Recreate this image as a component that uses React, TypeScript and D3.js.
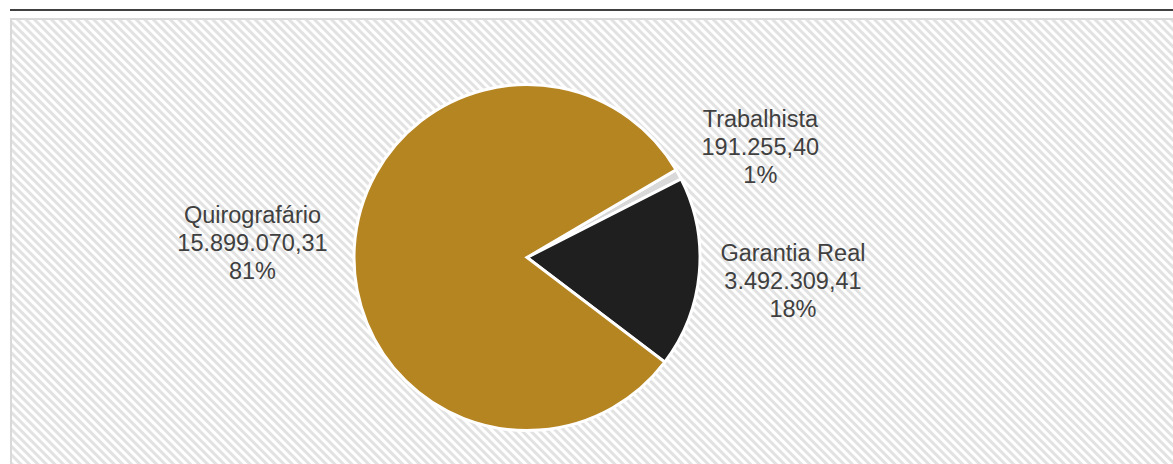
import React from 'react';
import * as d3 from 'd3';

// dados do gráfico
const categories = ['Trabalhista', 'Garantia Real', 'Quirografário'];
const values = [191255.40, 3492309.41, 15899070.31];
const valueLabels = ['191.255,40', '3.492.309,41', '15.899.070,31'];
const percentLabels = ['1%', '18%', '81%'];
const colors = ['#d9d9d9', '#1f1f1f', '#b58522'];

// ajuste fino dos rótulos (best fit)
const labelShift: Record<string, [number, number]> = {
  'Trabalhista': [1, 17],
  'Garantia Real': [2, 0],
  'Quirografário': [-10, 1],
};

const W = 1173;
const H = 464;

const App: React.FC = () => {
  const svgRef = React.useRef<SVGSVGElement>(null);

  React.useEffect(() => {
    if (!svgRef.current) return;
    const svg = d3.select(svgRef.current);
    svg.selectAll('*').remove();

    // padrão hachurado do fundo
    const defs = svg.append('defs');
    const pat = defs.append('pattern')
      .attr('id', 'hatch')
      .attr('patternUnits', 'userSpaceOnUse')
      .attr('width', 6)
      .attr('height', 6)
      .attr('patternTransform', 'rotate(45)');
    pat.append('rect').attr('width', 6).attr('height', 6).attr('fill', '#ffffff');
    pat.append('rect').attr('width', 6).attr('height', 3).attr('fill', '#e2e2e2');

    // linha superior
    svg.append('line')
      .attr('x1', 10).attr('x2', W)
      .attr('y1', 10).attr('y2', 10)
      .attr('stroke', '#404040')
      .attr('stroke-width', 2);

    // área do gráfico
    svg.append('rect')
      .attr('x', 11).attr('y', 19)
      .attr('width', W + 10).attr('height', H)
      .attr('fill', 'url(#hatch)')
      .attr('stroke', '#d9d9d9')
      .attr('stroke-width', 2);

    const cx = 527;
    const cy = 257.5;
    const radius = 173;

    const pie = d3.pie<number>()
      .sort(null)
      .startAngle((59.5 * Math.PI) / 180)
      .endAngle((59.5 * Math.PI) / 180 + 2 * Math.PI);
    const arcs = pie(values);

    const arc = d3.arc<d3.PieArcDatum<number>>()
      .innerRadius(0)
      .outerRadius(radius);
    const labelArc = d3.arc<d3.PieArcDatum<number>>()
      .innerRadius(265)
      .outerRadius(265);

    const g = svg.append('g').attr('transform', `translate(${cx},${cy})`);

    g.selectAll('.slice')
      .data(arcs)
      .enter().append('path')
      .attr('class', 'slice')
      .attr('d', arc)
      .attr('fill', (_, i) => colors[i])
      .attr('stroke', '#ffffff')
      .attr('stroke-width', 3)
      .attr('stroke-linejoin', 'miter');

    // rótulos
    const labels = g.selectAll('.label')
      .data(arcs)
      .enter().append('text')
      .attr('class', 'label')
      .attr('text-anchor', 'middle')
      .attr('font-family', 'Liberation Sans, Arial, sans-serif')
      .attr('font-size', '23.5px')
      .attr('fill', '#404040')
      .attr('transform', (d, i) => {
        const [x, y] = labelArc.centroid(d);
        const s = labelShift[categories[i]];
        return `translate(${x + s[0]},${y + s[1] + 8})`;
      });

    labels.each(function (_, i) {
      const t = d3.select(this);
      [categories[i], valueLabels[i], percentLabels[i]].forEach((line, k) => {
        t.append('tspan')
          .attr('x', 0)
          .attr('y', (k - 1) * 28)
          .text(line);
      });
    });
  }, []);

  return (
    <svg
      ref={svgRef}
      width={W}
      height={H}
      style={{ position: 'absolute', left: 0, top: 0, background: '#ffffff' }}
    />
  );
};

export default App;
